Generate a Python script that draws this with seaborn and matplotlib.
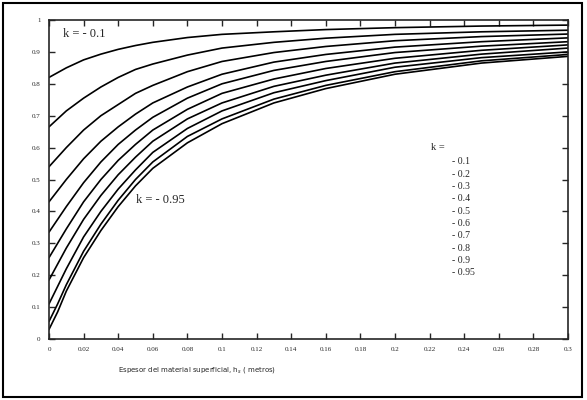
import numpy as np
import pandas as pd
import matplotlib
matplotlib.use("Agg")
import matplotlib.pyplot as plt
import seaborn as sns
from matplotlib.patches import Rectangle

# Data
hs = [0, 0.005, 0.01, 0.02, 0.03, 0.04, 0.05, 0.06, 0.08, 0.1, 0.13, 0.16, 0.2, 0.25, 0.3]
k_labels = ["-0.1", "-0.2", "-0.3", "-0.4", "-0.5", "-0.6", "-0.7", "-0.8", "-0.9", "-0.95"]
cs_k01 = [0.82, 0.835, 0.85, 0.875, 0.893, 0.908, 0.92, 0.93, 0.945, 0.955, 0.963, 0.97, 0.976, 0.981, 0.984]
cs_k02 = [0.665, 0.69, 0.715, 0.755, 0.79, 0.82, 0.845, 0.862, 0.89, 0.912, 0.93, 0.943, 0.955, 0.963, 0.968]
cs_k03 = [0.54, 0.57, 0.60, 0.655, 0.70, 0.735, 0.77, 0.795, 0.838, 0.87, 0.898, 0.917, 0.935, 0.948, 0.956]
cs_k04 = [0.43, 0.465, 0.50, 0.565, 0.62, 0.665, 0.705, 0.74, 0.79, 0.83, 0.868, 0.892, 0.915, 0.932, 0.944]
cs_k05 = [0.335, 0.375, 0.415, 0.49, 0.555, 0.61, 0.655, 0.695, 0.755, 0.80, 0.842, 0.87, 0.898, 0.918, 0.932]
cs_k06 = [0.255, 0.30, 0.345, 0.43, 0.50, 0.56, 0.61, 0.655, 0.72, 0.77, 0.815, 0.848, 0.88, 0.905, 0.922]
cs_k07 = [0.185, 0.235, 0.285, 0.375, 0.45, 0.515, 0.57, 0.62, 0.69, 0.74, 0.792, 0.827, 0.865, 0.893, 0.912]
cs_k08 = [0.11, 0.165, 0.22, 0.32, 0.40, 0.47, 0.53, 0.585, 0.66, 0.715, 0.772, 0.81, 0.852, 0.882, 0.90]
cs_k09 = [0.055, 0.11, 0.17, 0.275, 0.36, 0.435, 0.50, 0.555, 0.635, 0.69, 0.752, 0.795, 0.838, 0.872, 0.892]
cs_k095 = [0.03, 0.085, 0.15, 0.255, 0.34, 0.415, 0.48, 0.535, 0.615, 0.675, 0.74, 0.785, 0.83, 0.865, 0.886]
series = [cs_k01, cs_k02, cs_k03, cs_k04, cs_k05, cs_k06, cs_k07, cs_k08, cs_k09, cs_k095]

x_ticks = [0, 0.02, 0.04, 0.06, 0.08, 0.1, 0.12, 0.14, 0.16, 0.18, 0.2, 0.22, 0.24, 0.26, 0.28, 0.3]
x_ticklabels = ["0", "0.02", "0.04", "0.06", "0.08", "0.1", "0.12", "0.14", "0.16", "0.18",
                "0.2", "0.22", "0.24", "0.26", "0.28", "0.3"]
y_ticks = [0, 0.1, 0.2, 0.3, 0.4, 0.5, 0.6, 0.7, 0.8, 0.9, 1]
y_ticklabels = ["0", "0.1", "0.2", "0.3", "0.4", "0.5", "0.6", "0.7", "0.8", "0.9", "1"]

rows = []
for lab, vals in zip(k_labels, series):
    for h, v in zip(hs, vals):
        rows.append({"hs": h, "Cs": v, "k": lab})
df = pd.DataFrame(rows)

sns.set_style("ticks")
plt.rcParams["font.family"] = ["Liberation Serif", "DejaVu Serif"]

fig = plt.figure(figsize=(5.87, 4.00), dpi=100)
ax = fig.add_axes([49 / 587, 1 - 339 / 400, (568 - 49) / 587, (339 - 20) / 400])

sns.lineplot(data=df, x="hs", y="Cs", hue="k", hue_order=k_labels,
             palette=["black"] * len(k_labels), linewidth=1.2, legend=False, ax=ax)

ax.set_xlim(0, 0.3)
ax.set_ylim(0, 1)
ax.set_xticks(x_ticks)
ax.set_xticklabels(x_ticklabels)
ax.set_yticks(y_ticks)
ax.set_yticklabels(y_ticklabels)
ax.tick_params(direction="in", length=4, width=1, labelsize=5, top=True, right=True,
               labeltop=False, labelright=False, pad=6)
for sp in ax.spines.values():
    sp.set_linewidth(1.2)
    sp.set_visible(True)
ax.set_xlabel("")
ax.set_ylabel("")

fig.text(118 / 587, 1 - 370 / 400, "Espesor del material superficial, h$_s$ ( metros)",
         fontsize=5, family=["DejaVu Sans"], ha="left", va="center")

ax.text(0.008, 0.955, "k = - 0.1", fontsize=9, ha="left", va="center")
ax.text(0.05, 0.435, "k = - 0.95", fontsize=9, ha="left", va="center")

ax.text(0.221, 0.6, "k =", fontsize=7.5, ha="left", va="center")
legend_y0 = 0.555
for i, lab in enumerate(k_labels):
    ax.text(0.233, legend_y0 - i * 0.0386, "- " + lab[1:], fontsize=7, ha="left", va="center")

fig.patches.append(Rectangle((3 / 587, 3 / 400), 579 / 587, 394 / 400,
                             transform=fig.transFigure, fill=False,
                             edgecolor="black", linewidth=1.5))

fig.savefig("out.png", dpi=100)
